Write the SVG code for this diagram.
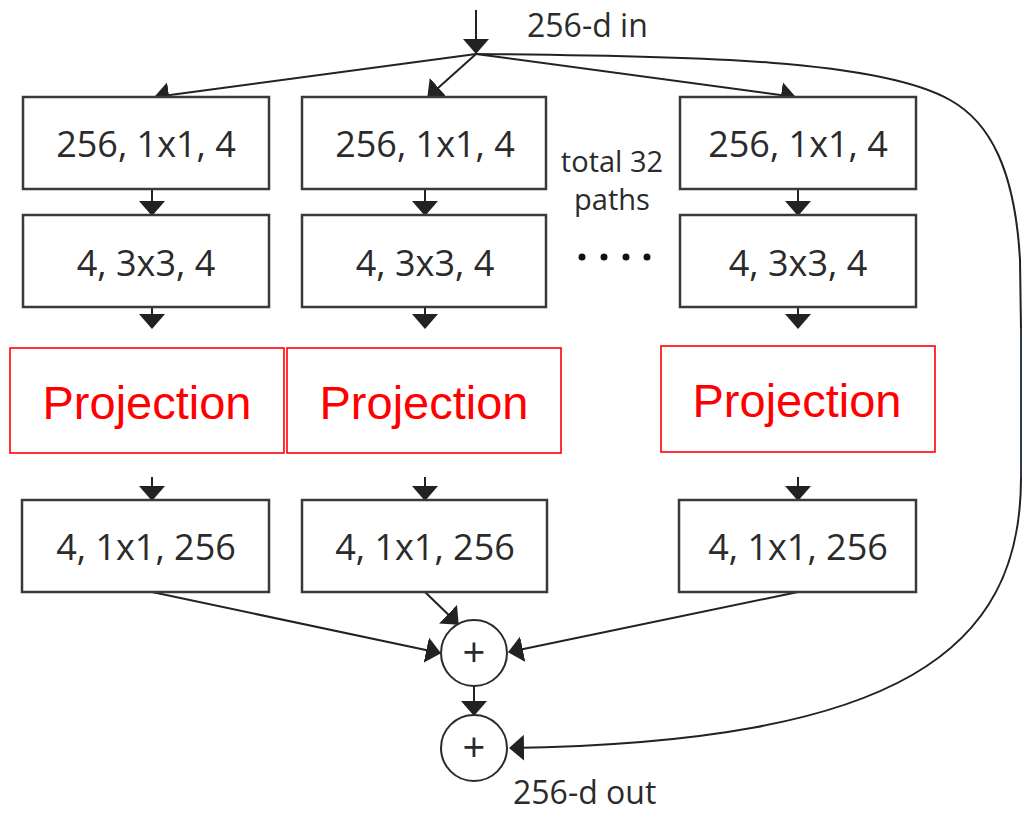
<svg xmlns="http://www.w3.org/2000/svg" width="1022" height="813" viewBox="0 0 1022 813">
<defs>
<style>
.box{fill:#fff;stroke:#3a3a3a;stroke-width:2.5}
.proj{fill:#fff;stroke:#ff0000;stroke-width:1.6}
.t{font-family:"Open Sans","Noto Sans",sans-serif;font-size:36px;fill:#2b2b2b;text-anchor:middle}
.pt{font-family:"Liberation Sans",Arial,sans-serif;font-size:47px;fill:#ff0000;text-anchor:middle}
.lbl{font-family:"Open Sans","Noto Sans",sans-serif;font-size:32px;fill:#2b2b2b}
.c{fill:none;stroke:#222;stroke-width:2}
.a{fill:none;stroke:#222;stroke-width:2;marker-end:url(#ah)}
.circ{fill:#fff;stroke:#2b2b2b;stroke-width:2}
</style>
<marker id="ah" viewBox="0 0 15 26" refX="14" refY="13" markerWidth="15" markerHeight="26" markerUnits="userSpaceOnUse" orient="auto">
<path d="M0,0 L15,13 L0,26 z" fill="#222"/>
</marker>
</defs>
<rect width="1022" height="813" fill="#fff"/>

<g id="connectors">
<line class="a" x1="476" y1="10" x2="476" y2="53"/>
<line class="a" x1="476" y1="54" x2="155" y2="97"/>
<line class="a" x1="476" y1="54" x2="428" y2="97"/>
<line class="a" x1="476" y1="54" x2="795" y2="97"/>
<path class="c" d="M476,54 C700,56 880,60 950,100 C990,122 1015,170 1020,260 L1021,330"/>
<path d="M1021,328 L1021,478" fill="none" stroke="#2e3a4a" stroke-width="2"/>
<path class="a" d="M1021,478 C1021,650 900,742 510,748"/>
<line class="a" x1="152" y1="189" x2="152" y2="215"/>
<line class="a" x1="425" y1="189" x2="425" y2="215"/>
<line class="a" x1="798" y1="189" x2="798" y2="215"/>
<line class="a" x1="152" y1="307" x2="152" y2="328"/>
<line class="a" x1="425" y1="307" x2="425" y2="328"/>
<line class="a" x1="798" y1="307" x2="798" y2="328"/>
<line class="a" x1="152" y1="477" x2="152" y2="500"/>
<line class="a" x1="425" y1="477" x2="425" y2="500"/>
<line class="a" x1="798" y1="477" x2="798" y2="500"/>
<line class="a" x1="152" y1="592" x2="440" y2="653"/>
<line class="a" x1="425" y1="592" x2="458" y2="624"/>
<line class="a" x1="798" y1="592" x2="509" y2="652"/>
<line class="a" x1="474" y1="686" x2="474" y2="715"/>
</g>

<g id="label-in"><text class="lbl" x="527" y="37">256-d in</text></g>

<g id="b1r1"><rect class="box" x="23" y="97" width="246" height="92"/><text class="t" x="146" y="157">256, 1x1, 4</text></g>
<g id="b2r1"><rect class="box" x="302" y="97" width="244" height="92"/><text class="t" x="425" y="157">256, 1x1, 4</text></g>
<g id="b3r1"><rect class="box" x="680" y="97" width="236" height="92"/><text class="t" x="798" y="157">256, 1x1, 4</text></g>

<g id="b1r2"><rect class="box" x="23" y="215" width="246" height="92"/><text class="t" x="146" y="276">4, 3x3, 4</text></g>
<g id="b2r2"><rect class="box" x="302" y="215" width="244" height="92"/><text class="t" x="425" y="276">4, 3x3, 4</text></g>
<g id="b3r2"><rect class="box" x="680" y="215" width="236" height="92"/><text class="t" x="798" y="276">4, 3x3, 4</text></g>

<g id="note"><text class="lbl" style="font-size:29px" x="612" y="172" text-anchor="middle">total 32</text><text class="lbl" style="font-size:29px" x="612" y="210" text-anchor="middle">paths</text>
<circle cx="582" cy="257" r="3.5" fill="#111"/><circle cx="604" cy="257" r="3.5" fill="#111"/><circle cx="626" cy="257" r="3.5" fill="#111"/><circle cx="647" cy="257" r="3.5" fill="#111"/></g>

<g id="p1"><rect class="proj" x="10" y="348" width="274" height="105"/><text class="pt" x="147" y="419">Projection</text></g>
<g id="p2"><rect class="proj" x="287" y="348" width="274" height="105"/><text class="pt" x="424" y="419">Projection</text></g>
<g id="p3"><rect class="proj" x="661" y="346" width="274" height="106"/><text class="pt" x="797" y="417">Projection</text></g>

<g id="b1r4"><rect class="box" x="22" y="500" width="247" height="92"/><text class="t" x="146" y="560">4, 1x1, 256</text></g>
<g id="b2r4"><rect class="box" x="302" y="500" width="245" height="92"/><text class="t" x="425" y="560">4, 1x1, 256</text></g>
<g id="b3r4"><rect class="box" x="679" y="500" width="237" height="92"/><text class="t" x="798" y="560">4, 1x1, 256</text></g>

<g id="sum1"><circle class="circ" cx="474" cy="653" r="33"/><text class="t" style="font-size:40px" x="474" y="667">+</text></g>
<g id="sum2"><circle class="circ" cx="474" cy="748" r="33"/><text class="t" style="font-size:40px" x="474" y="762">+</text></g>

<g id="label-out"><text class="lbl" x="513" y="804">256-d out</text></g>
</svg>
